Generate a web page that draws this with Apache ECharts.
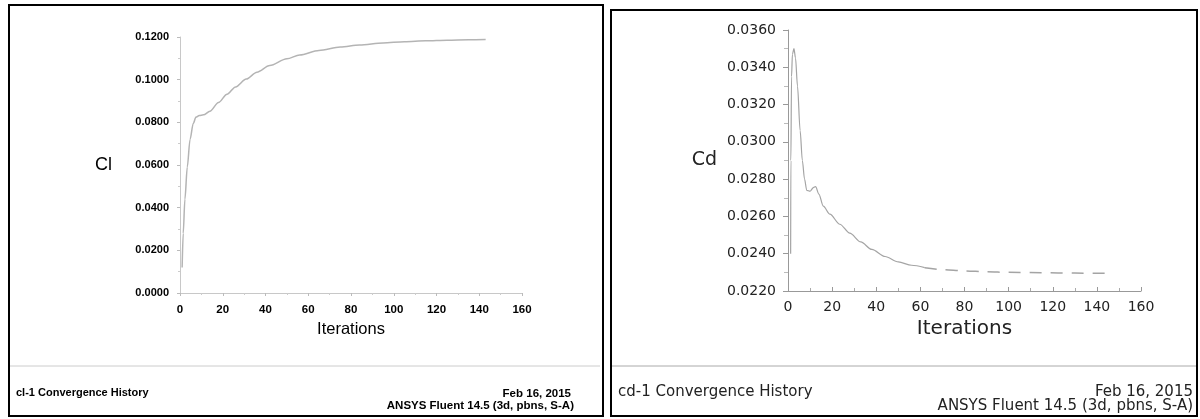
<!DOCTYPE html>
<html>
<head>
<meta charset="utf-8">
<script src="https://cdn.jsdelivr.net/npm/echarts@6/dist/echarts.min.js"></script>
<style>
html,body{margin:0;padding:0;background:#fff;}
#main{width:1200px;height:419px;}
</style>
</head>
<body>
<div id="main"></div>
<script>
// Cl convergence history (left)
var clIter = [1, 1.5, 2.3, 3.4, 4.7, 6.2, 7.5, 9, 11, 14, 18, 22, 26, 31, 36, 42, 50, 56, 65, 75, 84, 95, 105, 115, 125, 135, 143];
var clValues = [0.012, 0.028, 0.044, 0.059, 0.072, 0.0795, 0.0825, 0.0832, 0.0835, 0.0852, 0.0893, 0.0932, 0.0966, 0.1003, 0.1035, 0.1066, 0.1098, 0.1116, 0.1137, 0.1153, 0.1163, 0.1172, 0.1178, 0.1182, 0.1185, 0.1187, 0.1188];

// Cd convergence history (right)
var cdIter = [1.2, 1.3, 1.6, 2.0, 2.7, 3.4, 4.3, 5.5, 6.5, 7.5, 8.5, 10, 11.5, 12.5, 14, 16, 19, 23.5, 28, 33, 38, 44, 50, 56, 62, 70, 80, 90, 100, 115, 130, 144];
var cdValues = [0.0240, 0.0290, 0.0335, 0.0347, 0.0350, 0.0345, 0.0330, 0.0306, 0.0290, 0.0280, 0.02740, 0.02735, 0.02755, 0.02760, 0.0272, 0.02655, 0.02612, 0.02558, 0.02510, 0.02463, 0.02423, 0.02385, 0.02356, 0.02338, 0.02325, 0.02315, 0.02308, 0.02303, 0.02300, 0.02298, 0.02296, 0.02295];

var xTicks = {min: 0, max: 160, interval: 20};
var clAxis = {min: 0, max: 0.12, interval: 0.02};
var cdAxis = {min: 0.022, max: 0.036, interval: 0.002};

function pairs(xs, ys){
	var out = [];
	for (var i = 0; i < xs.length; i++) out.push([xs[i], ys[i]]);
	return out;
}
var cdAll = pairs(cdIter, cdValues);
var cdHead = cdAll.filter(function(p){ return p[0] <= 62; });
var cdTail = cdAll.filter(function(p){ return p[0] >= 62; });

var arial = "'Liberation Sans', Arial, sans-serif";
var wide = "'DejaVu Sans', Verdana, sans-serif";

function footer(text, pos, font, size, weight, color){
	var t = {text: text, padding: 0, textStyle: {fontFamily: font, fontSize: size, fontWeight: weight, color: color}};
	for (var k in pos) t[k] = pos[k];
	return t;
}

var chart = echarts.init(document.getElementById('main'));
var option = {
	backgroundColor: '#fff',
	animation: false,
	title: [
		footer('cl-1 Convergence History', {left: 16, top: 387}, arial, 11, 'bold', '#000'),
		footer('Feb 16, 2015', {right: 629, top: 388}, arial, 11.5, 'bold', '#000'),
		footer('ANSYS Fluent 14.5 (3d, pbns, S-A)', {right: 626, top: 400}, arial, 11.5, 'bold', '#000'),
		footer('cd-1 Convergence History', {left: 618, top: 385}, wide, 15, 'normal', '#222'),
		footer('Feb 16, 2015', {right: 7, top: 385}, wide, 15, 'normal', '#222'),
		footer('ANSYS Fluent 14.5 (3d, pbns, S-A)', {right: 7, top: 399}, wide, 15, 'normal', '#222')
	],
	graphic: [
		{type: 'rect', shape: {x: 9, y: 5, width: 594, height: 411}, style: {fill: 'none', stroke: '#000', lineWidth: 2}, silent: true},
		{type: 'rect', shape: {x: 611, y: 10, width: 586, height: 406}, style: {fill: 'none', stroke: '#000', lineWidth: 2}, silent: true},
		{type: 'line', shape: {x1: 10, y1: 366, x2: 600, y2: 366}, style: {stroke: '#ccc', lineWidth: 1}, silent: true},
		{type: 'line', shape: {x1: 612, y1: 366, x2: 1196, y2: 366}, style: {stroke: '#aaa', lineWidth: 1}, silent: true}
	],
	grid: [
		{left: 180, right: 678, top: 37, bottom: 126},
		{left: 788, right: 59, top: 30, bottom: 128}
	],
	xAxis: [
		{
			gridIndex: 0, type: 'value', min: xTicks.min, max: xTicks.max, interval: xTicks.interval,
			name: 'Iterations', nameLocation: 'middle', nameGap: 28,
			nameTextStyle: {fontFamily: arial, fontSize: 16.5, color: '#000'},
			axisLine: {lineStyle: {color: '#c8c8c8', width: 1}},
			axisTick: {show: true, length: 3, lineStyle: {color: '#bbb'}},
			minorTick: {show: true, splitNumber: 2, length: 2, lineStyle: {color: '#ccc'}},
			axisLabel: {margin: 11, fontFamily: arial, fontSize: 11.5, fontWeight: 'bold', color: '#000'},
			splitLine: {show: false}
		},
		{
			gridIndex: 1, type: 'value', min: xTicks.min, max: xTicks.max, interval: xTicks.interval,
			name: 'Iterations', nameLocation: 'middle', nameGap: 25,
			nameTextStyle: {fontFamily: wide, fontSize: 20, color: '#222'},
			axisLine: {lineStyle: {color: '#999', width: 1}},
			axisTick: {show: true, inside: true, length: 4, lineStyle: {color: '#999'}},
			minorTick: {show: true, splitNumber: 2, length: 3, lineStyle: {color: '#aaa'}},
			axisLabel: {margin: 9, fontFamily: wide, fontSize: 14, color: '#222'},
			splitLine: {show: false}
		}
	],
	yAxis: [
		{
			gridIndex: 0, type: 'value', min: clAxis.min, max: clAxis.max, interval: clAxis.interval,
			name: 'Cl', nameLocation: 'middle', nameGap: 68, nameRotate: 0,
			nameTextStyle: {fontFamily: arial, fontSize: 18, color: '#000'},
			axisLine: {show: true, lineStyle: {color: '#c8c8c8', width: 1}},
			axisTick: {show: true, length: 3, lineStyle: {color: '#bbb'}},
			minorTick: {show: true, splitNumber: 2, length: 2, lineStyle: {color: '#ccc'}},
			axisLabel: {margin: 11, fontFamily: arial, fontSize: 11, fontWeight: 'bold', color: '#000',
				formatter: function(v){ return v.toFixed(4); }},
			splitLine: {show: false}
		},
		{
			gridIndex: 1, type: 'value', min: cdAxis.min, max: cdAxis.max, interval: cdAxis.interval,
			name: 'Cd', nameLocation: 'middle', nameGap: 71, nameRotate: 0,
			nameTextStyle: {fontFamily: wide, fontSize: 19, color: '#222', padding: [6, 0, 0, 0]},
			axisLine: {show: true, lineStyle: {color: '#999', width: 1}},
			axisTick: {show: true, length: 5, lineStyle: {color: '#999'}},
			minorTick: {show: true, splitNumber: 2, length: 4, lineStyle: {color: '#bbb'}},
			axisLabel: {margin: 12, fontFamily: wide, fontSize: 14, color: '#222',
				formatter: function(v){ return v.toFixed(4); }},
			splitLine: {show: false}
		}
	],
	series: [
		{
			type: 'line', xAxisIndex: 0, yAxisIndex: 0, data: pairs(clIter, clValues),
			showSymbol: false, smooth: 0.3, smoothMonotone: 'x',
			lineStyle: {color: '#b4b4b4', width: 1.5}
		},
		{
			type: 'line', xAxisIndex: 1, yAxisIndex: 1, data: cdHead,
			showSymbol: false, smooth: 0.3, smoothMonotone: 'x',
			lineStyle: {color: '#a4a4a4', width: 1.2}
		},
		{
			type: 'line', xAxisIndex: 1, yAxisIndex: 1, data: cdTail,
			showSymbol: false, smooth: 0.3, smoothMonotone: 'x',
			lineStyle: {color: '#a4a4a4', width: 1.5, type: [12, 9]}
		}
	]
};
chart.setOption(option);
</script>
</body>
</html>
